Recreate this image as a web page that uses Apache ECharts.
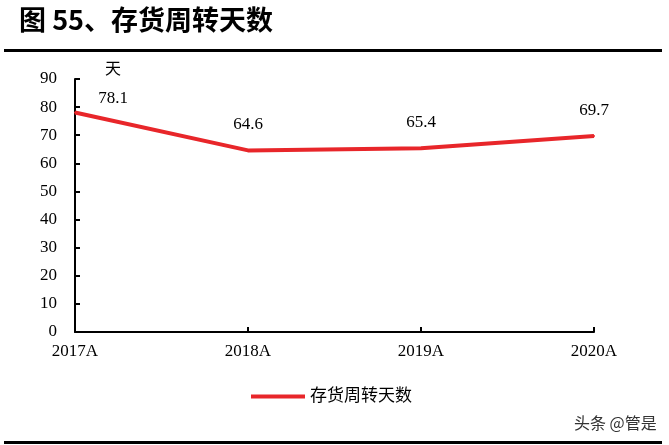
<!DOCTYPE html>
<html><head><meta charset="utf-8">
<script src="https://cdn.jsdelivr.net/npm/echarts@6/dist/echarts.min.js"></script>
<style>html,body{margin:0;padding:0;background:#fff}#c{width:669px;height:445px}</style>
</head><body><div id="c"></div>
<script>
const categories = ['2017A', '2018A', '2019A', '2020A'];
const values = [78.1, 64.6, 65.4, 69.7];
const yTicks = [0, 10, 20, 30, 40, 50, 60, 70, 80, 90];
const seriesName = '存货周转天数';
const title = '图 55、存货周转天数';
const unit = '天';

const serif = '"Liberation Serif", "Times New Roman", "Noto Sans CJK SC", serif';
const chart = echarts.init(document.getElementById('c'));
chart.setOption({
  animation: false,
  graphic: [
    { type: 'text', left: 19, top: 6, style: { text: title, font: 'bold 27px "Noto Sans CJK SC", sans-serif', fill: '#000' } },
    { type: 'rect', shape: { x: 4, y: 49, width: 658, height: 3 }, style: { fill: '#000' } },
    { type: 'rect', shape: { x: 4, y: 441, width: 658, height: 3 }, style: { fill: '#000' } },
    { type: 'text', left: 574, top: 415, style: { text: '头条 @管是', font: '16px "Noto Sans CJK SC", sans-serif', fill: '#333' } }
  ],
  grid: { left: 75, right: 75, top: 79, bottom: 113, containLabel: false },
  legend: {
    data: [seriesName], bottom: 35, left: 246, itemWidth: 54, itemHeight: 4, itemGap: 8,
    icon: 'rect',
    itemStyle: { color: '#e8262a' },
    textStyle: { fontSize: 17, color: '#000', fontFamily: serif }
  },
  xAxis: {
    type: 'category', data: categories, boundaryGap: false,
    axisLine: { lineStyle: { color: '#000', width: 2 } },
    axisTick: { show: true, inside: true, length: 5, lineStyle: { color: '#000', width: 2 } },
    axisLabel: { color: '#000', fontSize: 17, fontFamily: serif, margin: 11 }
  },
  yAxis: {
    type: 'value', min: yTicks[0], max: yTicks[yTicks.length - 1], interval: 10,
    name: unit, nameLocation: 'end', nameGap: 1,
    nameTextStyle: { color: '#000', fontSize: 16, fontFamily: serif, align: 'left', padding: [0, 0, 0, 30] },
    axisLine: { show: true, lineStyle: { color: '#000', width: 2 } },
    axisTick: { show: true, inside: true, length: 5, lineStyle: { color: '#000', width: 2 } },
    splitLine: { show: false },
    axisLabel: { color: '#000', fontSize: 17, fontFamily: serif, margin: 18 }
  },
  series: [{
    name: seriesName, type: 'line', data: values,
    symbol: 'circle', symbolSize: 2, showSymbol: true, showAllSymbol: true,
    lineStyle: { color: '#e8262a', width: 4 },
    itemStyle: { color: '#e8262a' },
    label: { show: true, position: 'top', distance: 16, color: '#000', fontSize: 17, fontFamily: serif,
      formatter: p => p.value.toFixed(1) },
    labelLayout: p => (p.dataIndex === 0 ? { dx: 38, dy: 12, hideOverlap: false } : { hideOverlap: false })
  }]
});
</script></body></html>
